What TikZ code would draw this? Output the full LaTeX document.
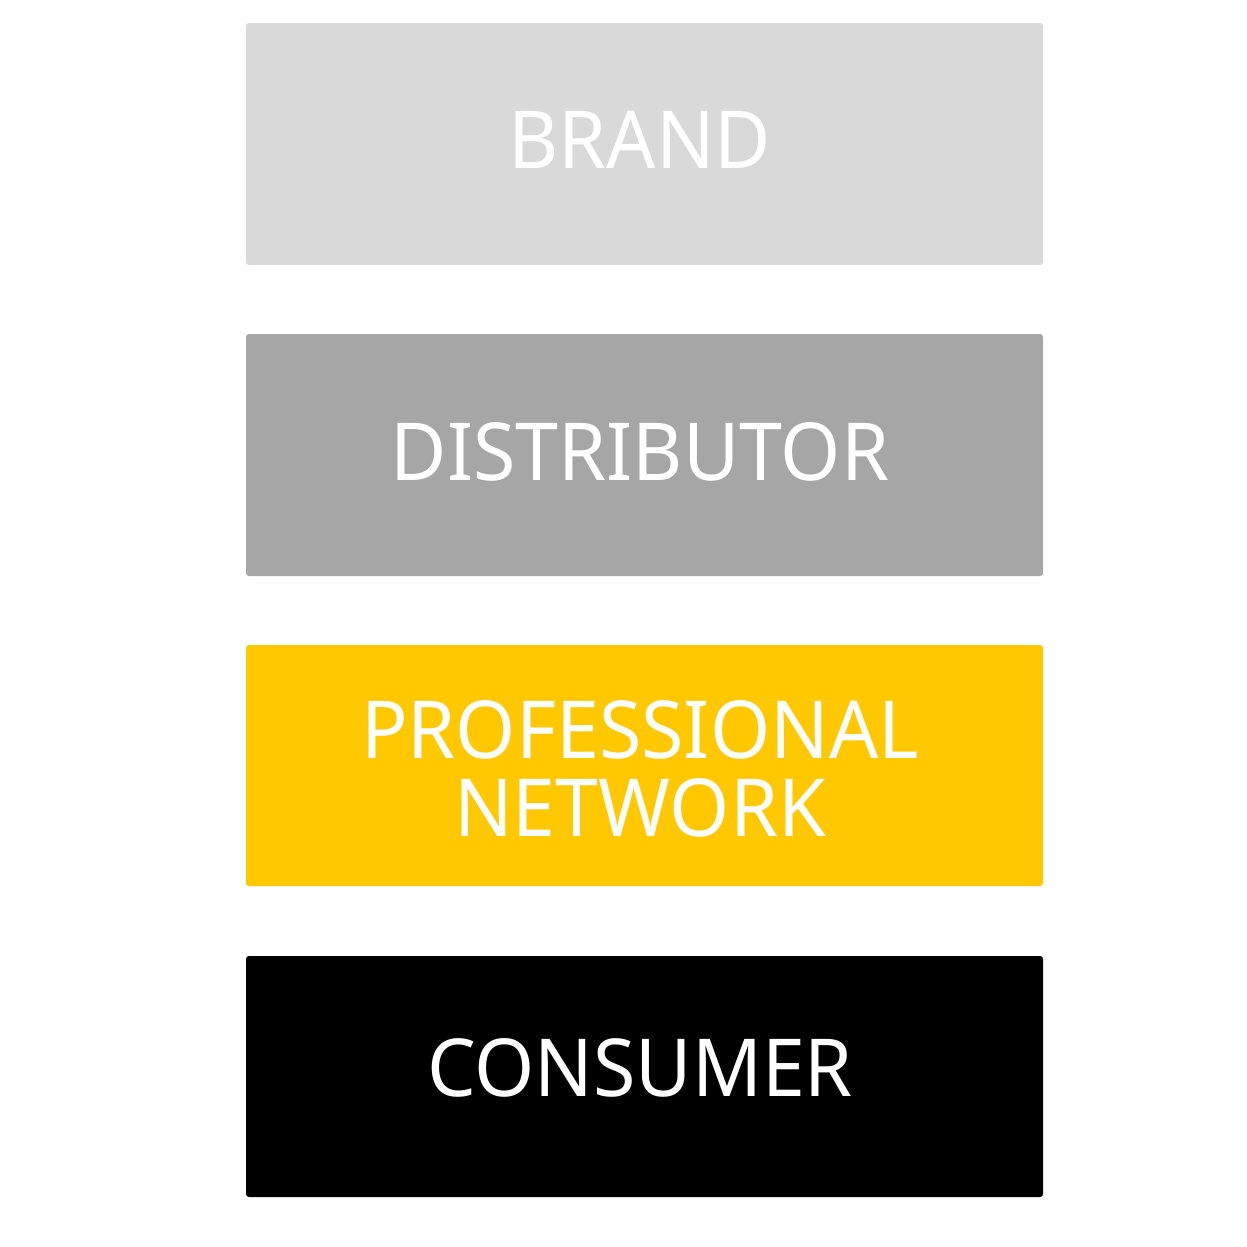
\documentclass[tikz,border=0pt]{standalone}
\usepackage{fontspec}
\setmainfont{Noto Sans}
\definecolor{brandgray}{HTML}{D9D9D9}
\definecolor{distgray}{HTML}{A6A6A6}
\definecolor{proyellow}{HTML}{FFC800}
\tikzset{
  box/.style={rounded corners=3pt, draw=none},
  lbl/.style={text=white, anchor=base, inner sep=0pt, font=\fontsize{80}{80}\selectfont}
}
\begin{document}
\begin{tikzpicture}[x=1pt,y=-1pt]
\useasboundingbox (0,0) rectangle (1247,1247);
\fill[box, brandgray] (246,23) rectangle (1043,265);
\fill[box, distgray] (246,334) rectangle (1043,576);
\fill[box, proyellow] (246,645) rectangle (1043,886);
\fill[box, black] (246,956) rectangle (1043,1197);
\node[lbl] (brand) at (640,168) {\scalebox{0.965}[1]{BRAND}};
\node[lbl] (dist) at (640,480) {\scalebox{0.965}[1]{DISTRIBUTOR}};
\node[lbl] (prof) at (640,758) {\scalebox{0.965}[1]{PROFESSIONAL}};
\node[lbl] (net) at (640,836) {\scalebox{0.965}[1]{NETWORK}};
\node[lbl] (cons) at (640,1096) {\scalebox{0.965}[1]{CONSUMER}};
\end{tikzpicture}
\end{document}
